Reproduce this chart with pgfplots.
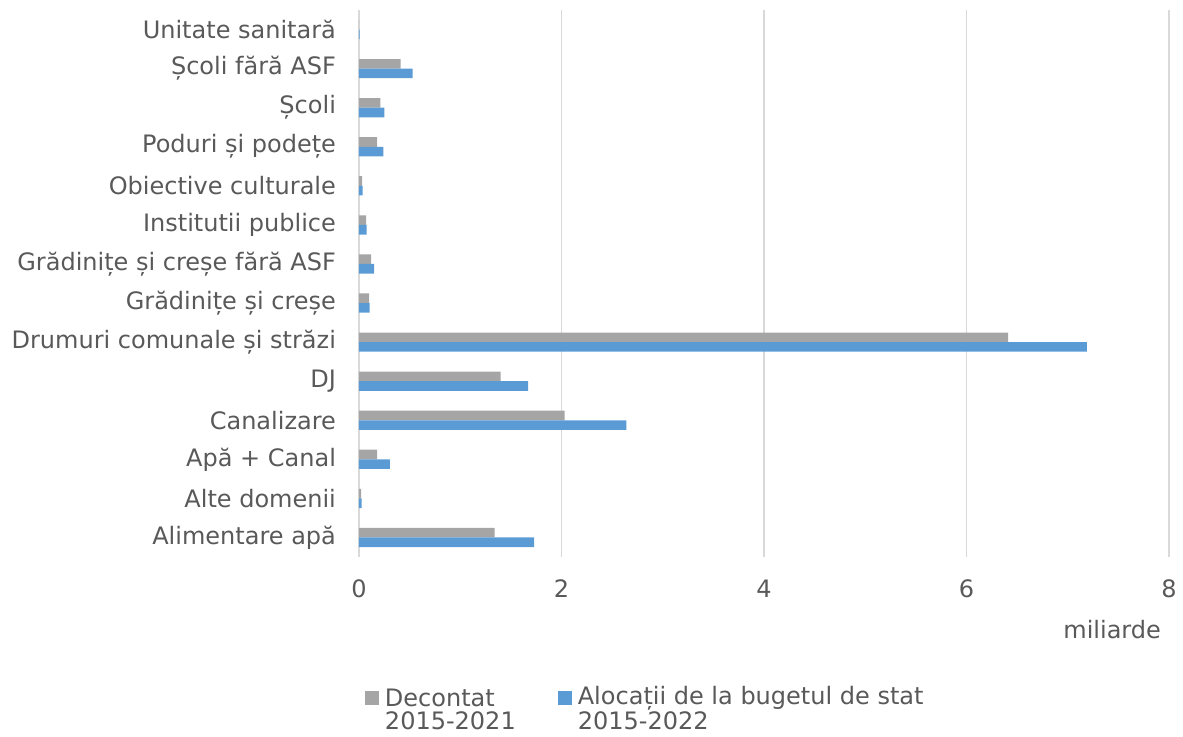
\documentclass[border=0pt]{standalone}
\usepackage{fontspec}
\setmainfont{DejaVu Sans}
\usepackage{pgfplots}
\pgfplotsset{compat=1.18}
\definecolor{cgray}{HTML}{A5A5A5}
\definecolor{cblue}{HTML}{5B9BD5}
\definecolor{ctext}{HTML}{595959}
\definecolor{cgrid}{HTML}{D9D9D9}
\begin{document}
\begin{tikzpicture}
\path[use as bounding box] (-179.5pt,-89.5pt) rectangle (412pt,278.5pt);
\begin{axis}[
  scale only axis,
  width=405pt, height=273.5pt,
  at={(0,0)}, anchor=south west,
  clip=false,
  xbar=0pt, bar width=4.8pt,
  xmin=0, xmax=8,
  ymin=-0.5, ymax=13.5,
  xtick={0,2,4,6,8},
  ytick={0,...,13},
  yticklabels={{Alimentare apă},{Alte domenii},{Apă + Canal},{Canalizare},{DJ},{Drumuri comunale și străzi},{Grădinițe și creșe},{Grădinițe și creșe fără ASF},{Institutii publice},{Obiective culturale},{Poduri și podețe},{Școli},{Școli fără ASF},{Unitate sanitară}},
  axis x line*=bottom, axis y line*=left,
  x axis line style={draw=none},
  y axis line style={draw=cgrid, line width=0.8pt},
  xmajorgrids, grid style={cgrid, line width=0.8pt},
  major tick length=0pt,
  tick style={draw=none},
  /pgf/number format/assume math mode=true,
  ticklabel style={font=\fontsize{12}{14}\selectfont, text=ctext},
  xticklabel style={yshift=-8pt},
  yticklabel style={xshift=-8pt},
  legend style={at={(rel axis cs:0,0)}, anchor=north west, xshift=3pt, yshift=-62.5pt,
    draw=none, legend columns=2, font=\fontsize{12}{11.5}\selectfont, text=ctext,
    inner sep=0pt, outer sep=0pt,
    cells={align=left, anchor=base west},
    /tikz/every odd column/.append style={column sep=1pt},
    /tikz/every even column/.append style={column sep=19pt}},
  legend image code/.code={\fill[#1] (0pt,12.5pt) rectangle (7pt,19.5pt);},
]
\addplot[fill=cgray, draw=none, bar shift=2.4pt] coordinates {
(1.34,0) (0.02,1) (0.18,2) (2.03,3) (1.40,4) (6.41,5) (0.10,6) (0.12,7)
(0.07,8) (0.03,9) (0.18,10) (0.21,11) (0.41,12) (0.002,13)};
\addplot[fill=cblue, draw=none, bar shift=-2.4pt] coordinates {
(1.73,0) (0.025,1) (0.305,2) (2.64,3) (1.67,4) (7.19,5) (0.105,6) (0.15,7)
(0.075,8) (0.035,9) (0.24,10) (0.25,11) (0.53,12) (0.006,13)};
\legend{{Decontat\\2015-2021},{Alocații de la bugetul de stat\\2015-2022}}
\node[anchor=east, text=ctext, font=\fontsize{12}{14}\selectfont] at ([xshift=-0.5pt,yshift=-36.5pt]rel axis cs:1,0) {miliarde};
\end{axis}
\end{tikzpicture}
\end{document}
